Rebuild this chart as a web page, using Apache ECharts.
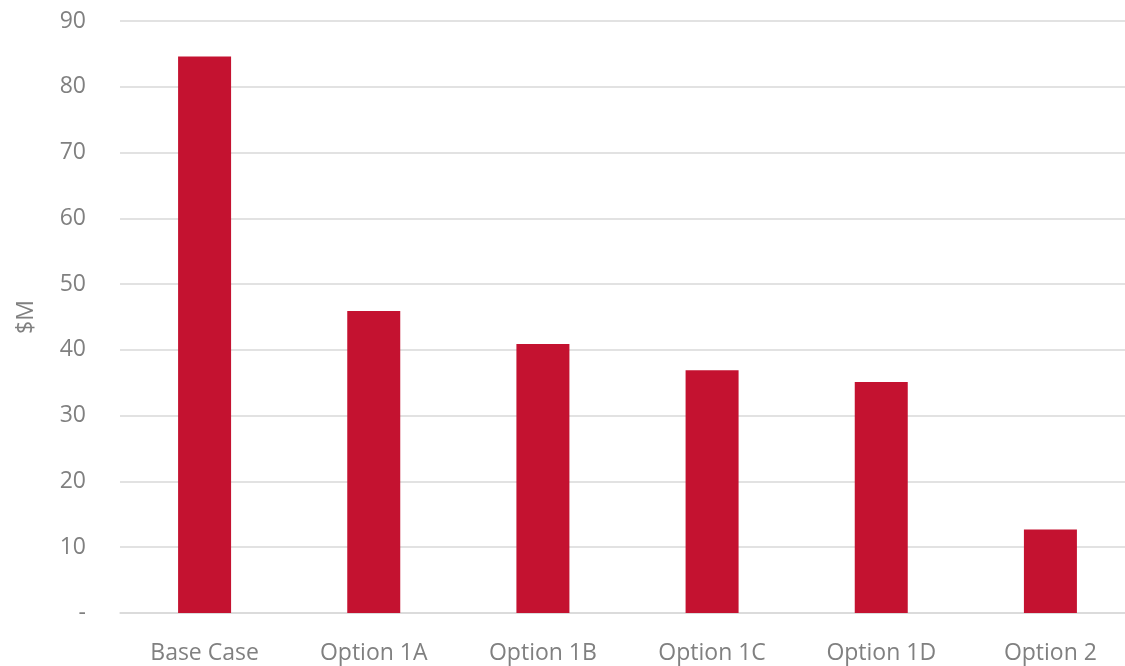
<!DOCTYPE html>
<html>
<head>
<meta charset="utf-8">
<script src="https://cdn.jsdelivr.net/npm/echarts@6/dist/echarts.min.js"></script>
<style>html,body{margin:0;padding:0;background:#fff;overflow:hidden;width:1125px;height:666px;}#c{width:1135px;height:666px;}</style>
</head>
<body>
<div id="c"></div>
<script>
const categories = ['Base Case', 'Option 1A', 'Option 1B', 'Option 1C', 'Option 1D', 'Option 2'];
const values = [84.6, 45.9, 40.9, 36.9, 35.1, 12.7];
const yAxisName = '$M';

const chart = echarts.init(document.getElementById('c'), null, {renderer: 'canvas'});
const font = '"Open Sans", "Noto Sans", sans-serif';
chart.setOption({
  animation: false,
  grid: {left: 120, top: 21, right: 0, bottom: 53, containLabel: false},
  xAxis: {
    type: 'category',
    data: categories,
    axisLine: {show: true, lineStyle: {color: '#d9d9d9', width: 1.5}},
    axisTick: {show: false},
    axisLabel: {color: '#808080', fontSize: 23, fontFamily: font, margin: 29}
  },
  yAxis: {
    type: 'value',
    min: 0, max: 90, interval: 10,
    name: yAxisName,
    nameLocation: 'middle',
    nameGap: 82,
    nameRotate: 90,
    nameTextStyle: {color: '#808080', fontSize: 23, fontFamily: font},
    axisLine: {show: false},
    axisTick: {show: false},
    splitLine: {lineStyle: {color: '#d9d9d9', width: 1.5}},
    axisLabel: {
      color: '#808080', fontSize: 23, fontFamily: font, margin: 34,
      formatter: v => v === 0 ? '-' : String(v)
    }
  },
  series: [{
    type: 'bar',
    data: values,
    barWidth: 53,
    itemStyle: {color: '#c41230'}
  }]
});
</script>
</body>
</html>
